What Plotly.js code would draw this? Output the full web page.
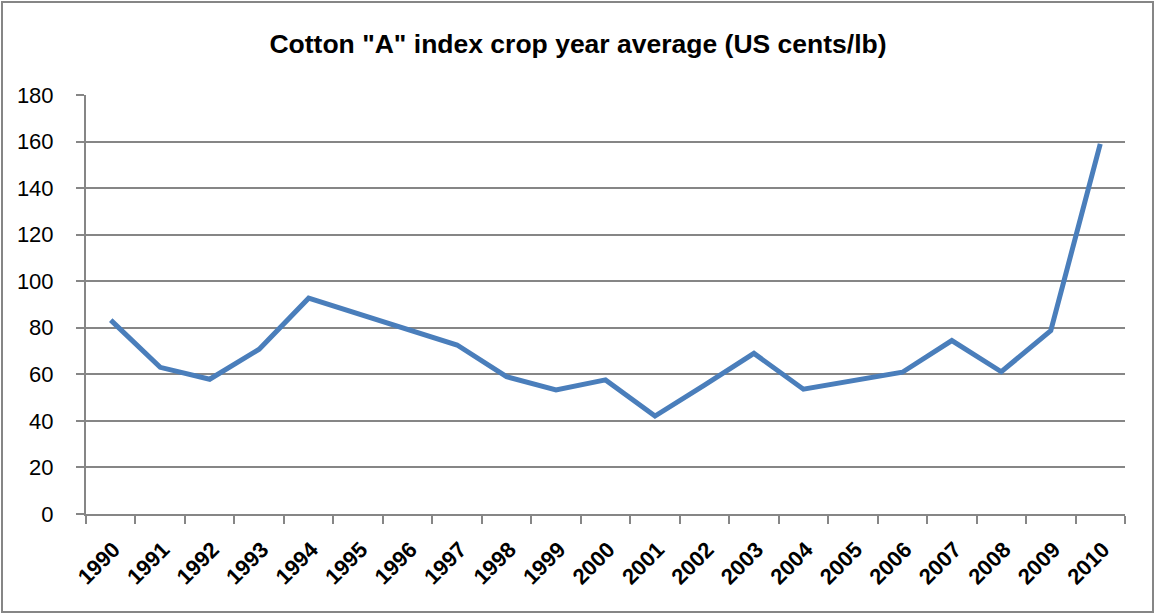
<!DOCTYPE html>
<html>
<head>
<meta charset="utf-8">
<script src="https://cdn.plot.ly/plotly-3.0.1.min.js"></script>
<style>
  html, body { margin: 0; padding: 0; background: #fff; }
  #wrap { position: relative; width: 1156px; height: 614px; }
  #chart { position: absolute; left: 0; top: 0; width: 1156px; height: 614px; }
  #frame { position: absolute; left: 1px; top: 1px; width: 1149px; height: 608px;
           border: 2px solid #868686; pointer-events: none; }
</style>
</head>
<body>
<div id="wrap">
  <div id="chart"></div>
  <div id="frame"></div>
</div>
<script>
// Crop years and the Cotton "A" index average for each (US cents/lb)
const years = ["1990","1991","1992","1993","1994","1995","1996","1997","1998","1999",
               "2000","2001","2002","2003","2004","2005","2006","2007","2008","2009","2010"];
const indexCents = [83.3, 63.0, 57.9, 70.8, 92.7, 86.0, 79.5, 72.6, 59.0, 53.3,
                    57.6, 42.1, 55.4, 69.0, 53.6, 57.4, 60.9, 74.5, 61.1, 78.8, 159.0];
const yTicks = [0, 20, 40, 60, 80, 100, 120, 140, 160, 180];

const gray = "#868686";
const font = "Liberation Sans, Arial, sans-serif";

const trace = {
  type: "scatter",
  mode: "lines",
  x: years,
  y: indexCents,
  line: { color: "#4A7EBB", width: 5 },
  hoverinfo: "x+y"
};

const layout = {
  width: 1156,
  height: 614,
  margin: { l: 86, r: 31, t: 95, b: 100 },
  paper_bgcolor: "#ffffff",
  plot_bgcolor: "#ffffff",
  showlegend: false,
  title: {
    text: "<b>Cotton \"A\" index crop year average (US cents/lb)</b>",
    font: { family: font, size: 26.5, color: "#000" },
    x: 0.5, xanchor: "center",
    y: 1 - 44 / 614, yref: "container", yanchor: "middle"
  },
  xaxis: {
    type: "category",
    range: [-0.5, years.length - 0.5],
    tickson: "boundaries",
    ticks: "outside",
    ticklen: 8,
    tickwidth: 2,
    tickcolor: gray,
    showline: true,
    linecolor: gray,
    linewidth: 2,
    showgrid: false,
    zeroline: false,
    tickangle: -45,
    ticklabelstandoff: 12,
    ticklabelshift: 3,
    tickfont: { family: font, size: 22, weight: "bold", color: "#000" }
  },
  yaxis: {
    range: [0, 180],
    tickvals: yTicks,
    ticks: "outside",
    ticklen: 8,
    tickwidth: 2,
    tickcolor: gray,
    showline: true,
    linecolor: gray,
    linewidth: 2,
    showgrid: true,
    gridcolor: gray,
    gridwidth: 2,
    zeroline: false,
    ticklabelstandoff: 18,
    tickfont: { family: font, size: 22, color: "#000" }
  }
};

Plotly.newPlot("chart", [trace], layout, { displayModeBar: false, staticPlot: true });
</script>
</body>
</html>
